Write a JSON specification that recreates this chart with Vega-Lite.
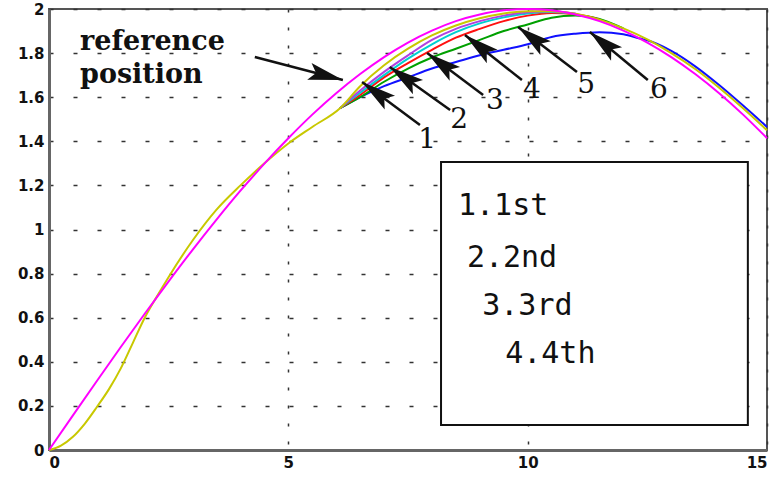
{
"$schema": "https://vega.github.io/schema/vega-lite/v6.json",
"width": 718, "height": 441,
"autosize": {"type": "none"},
"padding": {"left": 49, "top": 9, "right": 14, "bottom": 27},
"background": "white",
"config": {
  "view": {"stroke": "#555", "strokeWidth": 2},
  "axis": {"grid": true, "gridColor": "#333", "gridWidth": 1.5, "ticks": false, "domainColor": "#666", "domainWidth": 3, "labelFont": "DejaVu Sans", "labelFontWeight": "bold", "labelFontSize": 15, "labelColor": "#111"},
  "axisX": {"gridDash": [3, 15], "labelPadding": 5},
  "axisY": {"gridDash": [4, 20], "labelPadding": 5}
},
"datasets": {
  "curves": [
    {"s":"blue","x":6.08,"y":1.55},{"s":"blue","x":6.5,"y":1.6},{"s":"blue","x":7,"y":1.65},{"s":"blue","x":7.5,"y":1.69},{"s":"blue","x":8,"y":1.73},{"s":"blue","x":8.5,"y":1.76},{"s":"blue","x":9,"y":1.79},{"s":"blue","x":9.5,"y":1.815},{"s":"blue","x":10,"y":1.84},{"s":"blue","x":10.5,"y":1.873},{"s":"blue","x":11,"y":1.888},{"s":"blue","x":11.5,"y":1.895},{"s":"blue","x":12,"y":1.885},{"s":"blue","x":12.35,"y":1.866},{"s":"blue","x":12.5,"y":1.858},{"s":"blue","x":13,"y":1.81},{"s":"blue","x":13.5,"y":1.74},{"s":"blue","x":14,"y":1.655},{"s":"blue","x":14.5,"y":1.562},{"s":"blue","x":15,"y":1.465},
    {"s":"green","x":6.08,"y":1.55},{"s":"green","x":6.5,"y":1.6},{"s":"green","x":7,"y":1.67},{"s":"green","x":7.5,"y":1.73},{"s":"green","x":8,"y":1.78},{"s":"green","x":8.5,"y":1.82},{"s":"green","x":9,"y":1.86},{"s":"green","x":9.5,"y":1.9},{"s":"green","x":10,"y":1.93},{"s":"green","x":10.5,"y":1.96},{"s":"green","x":11,"y":1.97},{"s":"green","x":11.5,"y":1.955},{"s":"green","x":12,"y":1.912},
    {"s":"red","x":6.08,"y":1.55},{"s":"red","x":6.5,"y":1.61},{"s":"red","x":7,"y":1.69},{"s":"red","x":7.5,"y":1.755},{"s":"red","x":8,"y":1.815},{"s":"red","x":8.5,"y":1.87},{"s":"red","x":9,"y":1.91},{"s":"red","x":9.5,"y":1.945},{"s":"red","x":10,"y":1.97},{"s":"red","x":10.5,"y":1.982},{"s":"red","x":11,"y":1.976},{"s":"red","x":11.5,"y":1.953},
    {"s":"cyan","x":6.08,"y":1.55},{"s":"cyan","x":6.5,"y":1.62},{"s":"cyan","x":7,"y":1.7},{"s":"cyan","x":7.5,"y":1.775},{"s":"cyan","x":8,"y":1.84},{"s":"cyan","x":8.5,"y":1.895},{"s":"cyan","x":9,"y":1.935},{"s":"cyan","x":9.5,"y":1.962},{"s":"cyan","x":10,"y":1.98},{"s":"cyan","x":10.5,"y":1.986},{"s":"cyan","x":11,"y":1.978},
    {"s":"purple","x":6.08,"y":1.55},{"s":"purple","x":6.5,"y":1.63},{"s":"purple","x":7,"y":1.715},{"s":"purple","x":7.5,"y":1.79},{"s":"purple","x":8,"y":1.86},{"s":"purple","x":8.5,"y":1.91},{"s":"purple","x":9,"y":1.945},{"s":"purple","x":9.5,"y":1.97},{"s":"purple","x":10,"y":1.985},{"s":"purple","x":10.5,"y":1.99},{"s":"purple","x":11,"y":1.978},
    {"s":"yellow","x":0,"y":0},{"s":"yellow","x":0.25,"y":0.02},{"s":"yellow","x":0.5,"y":0.06},{"s":"yellow","x":0.75,"y":0.12},{"s":"yellow","x":1,"y":0.195},{"s":"yellow","x":1.25,"y":0.275},{"s":"yellow","x":1.5,"y":0.37},{"s":"yellow","x":1.75,"y":0.485},{"s":"yellow","x":2,"y":0.6},{"s":"yellow","x":2.25,"y":0.695},{"s":"yellow","x":2.5,"y":0.785},{"s":"yellow","x":3,"y":0.95},{"s":"yellow","x":3.5,"y":1.09},{"s":"yellow","x":4,"y":1.2},{"s":"yellow","x":4.5,"y":1.3},{"s":"yellow","x":5,"y":1.39},{"s":"yellow","x":5.5,"y":1.465},{"s":"yellow","x":6.08,"y":1.55},{"s":"yellow","x":6.5,"y":1.65},{"s":"yellow","x":7,"y":1.745},{"s":"yellow","x":7.5,"y":1.82},{"s":"yellow","x":8,"y":1.88},{"s":"yellow","x":8.5,"y":1.925},{"s":"yellow","x":9,"y":1.958},{"s":"yellow","x":9.5,"y":1.98},{"s":"yellow","x":10,"y":1.99},{"s":"yellow","x":10.5,"y":1.99},{"s":"yellow","x":11,"y":1.978},{"s":"yellow","x":11.5,"y":1.952},{"s":"yellow","x":12,"y":1.912},{"s":"yellow","x":12.5,"y":1.862},{"s":"yellow","x":13,"y":1.8},{"s":"yellow","x":13.5,"y":1.728},{"s":"yellow","x":14,"y":1.643},{"s":"yellow","x":14.5,"y":1.55},{"s":"yellow","x":15,"y":1.45},
    {"s":"magenta","x":0,"y":0},{"s":"magenta","x":0.5,"y":0.157},{"s":"magenta","x":1,"y":0.313},{"s":"magenta","x":1.5,"y":0.467},{"s":"magenta","x":2,"y":0.618},{"s":"magenta","x":2.5,"y":0.765},{"s":"magenta","x":3,"y":0.908},{"s":"magenta","x":3.5,"y":1.045},{"s":"magenta","x":4,"y":1.176},{"s":"magenta","x":4.5,"y":1.299},{"s":"magenta","x":5,"y":1.414},{"s":"magenta","x":5.5,"y":1.521},{"s":"magenta","x":6,"y":1.618},{"s":"magenta","x":6.5,"y":1.705},{"s":"magenta","x":7,"y":1.782},{"s":"magenta","x":7.5,"y":1.848},{"s":"magenta","x":8,"y":1.902},{"s":"magenta","x":8.5,"y":1.945},{"s":"magenta","x":9,"y":1.975},{"s":"magenta","x":9.5,"y":1.994},{"s":"magenta","x":10,"y":2},{"s":"magenta","x":10.5,"y":1.994},{"s":"magenta","x":11,"y":1.975},{"s":"magenta","x":11.5,"y":1.945},{"s":"magenta","x":12,"y":1.902},{"s":"magenta","x":12.5,"y":1.848},{"s":"magenta","x":13,"y":1.782},{"s":"magenta","x":13.5,"y":1.705},{"s":"magenta","x":14,"y":1.618},{"s":"magenta","x":14.5,"y":1.521},{"s":"magenta","x":15,"y":1.414}
  ],
  "arrows": [
    {"x":4.3,"y":1.782,"x2":6.14,"y2":1.678,"angle":104.6},
    {"x":7.75,"y":1.474,"x2":6.54,"y2":1.669,"angle":306.6},
    {"x":8.38,"y":1.542,"x2":7.12,"y2":1.737,"angle":305.6},
    {"x":9.07,"y":1.61,"x2":7.9,"y2":1.8,"angle":306.9},
    {"x":9.88,"y":1.678,"x2":8.69,"y2":1.882,"angle":308.3},
    {"x":11.03,"y":1.714,"x2":9.8,"y2":1.918,"angle":307.3},
    {"x":12.51,"y":1.678,"x2":11.3,"y2":1.896,"angle":309.6}
  ],
  "refText": [
    {"x":0.648,"y":1.814,"t":"reference"},
    {"x":0.648,"y":1.664,"t":"position"}
  ],
  "nums": [
    {"x":7.9,"y":1.37,"t":"1"},{"x":8.567,"y":1.46,"t":"2"},{"x":9.316,"y":1.546,"t":"3"},{"x":10.09,"y":1.596,"t":"4"},{"x":11.22,"y":1.619,"t":"5"},{"x":12.74,"y":1.596,"t":"6"}
  ],
  "box": [{"x":8.19,"x2":14.6,"y":1.306,"y2":0.113}],
  "legendText": [
    {"x":8.544,"y":1.066,"t":"1.1st"},{"x":8.73,"y":0.83,"t":"2.2nd"},{"x":9.05,"y":0.612,"t":"3.3rd"},{"x":9.53,"y":0.395,"t":"4.4th"}
  ]
},
"layer": [
  {
    "data": {"name": "curves"},
    "mark": {"type": "line", "strokeWidth": 2, "interpolate": "monotone"},
    "encoding": {
      "x": {"field": "x", "type": "quantitative", "title": null, "scale": {"domain": [0, 15], "nice": false}, "axis": {"values": [0, 5, 10, 15], "format": "~g"}},
      "y": {"field": "y", "type": "quantitative", "title": null, "scale": {"domain": [0, 2], "nice": false}, "axis": {"values": [0, 0.2, 0.4, 0.6, 0.8, 1, 1.2, 1.4, 1.6, 1.8, 2], "format": "~g"}},
      "color": {"field": "s", "type": "nominal", "legend": null, "sort": ["blue","green","red","cyan","purple","yellow","magenta"], "scale": {"domain": ["blue","green","red","cyan","purple","yellow","magenta"], "range": ["#1010ff","#00a000","#ff1010","#00d0d0","#b040e0","#c8c800","#ff00ff"]}}
    }
  },
  {
    "data": {"name": "box"},
    "mark": {"type": "rect", "fill": "white", "stroke": "#111", "strokeWidth": 2},
    "encoding": {
      "x": {"field": "x", "type": "quantitative"},
      "x2": {"field": "x2"},
      "y": {"field": "y", "type": "quantitative"},
      "y2": {"field": "y2"}
    }
  },
  {
    "data": {"name": "legendText"},
    "mark": {"type": "text", "align": "left", "baseline": "alphabetic", "font": "DejaVu Sans Mono", "fontSize": 30, "color": "#111"},
    "encoding": {
      "x": {"field": "x", "type": "quantitative"},
      "y": {"field": "y", "type": "quantitative"},
      "text": {"field": "t"}
    }
  },
  {
    "data": {"name": "arrows"},
    "mark": {"type": "rule", "strokeWidth": 2.5, "color": "#111"},
    "encoding": {
      "x": {"field": "x", "type": "quantitative"},
      "y": {"field": "y", "type": "quantitative"},
      "x2": {"field": "x2"},
      "y2": {"field": "y2"}
    }
  },
  {
    "data": {"name": "arrows"},
    "mark": {"type": "point", "shape": "M0,0L0.5,2L0,1.6L-0.5,2Z", "filled": true, "color": "#111", "opacity": 1, "size": 1200},
    "encoding": {
      "x": {"field": "x2", "type": "quantitative"},
      "y": {"field": "y2", "type": "quantitative"},
      "angle": {"field": "angle", "type": "quantitative", "scale": null}
    }
  },
  {
    "data": {"name": "refText"},
    "mark": {"type": "text", "align": "left", "baseline": "alphabetic", "font": "DejaVu Serif", "fontWeight": "bold", "fontSize": 27, "color": "#111"},
    "encoding": {
      "x": {"field": "x", "type": "quantitative"},
      "y": {"field": "y", "type": "quantitative"},
      "text": {"field": "t"}
    }
  },
  {
    "data": {"name": "nums"},
    "mark": {"type": "text", "align": "center", "baseline": "alphabetic", "font": "DejaVu Serif", "fontSize": 28, "color": "#111"},
    "encoding": {
      "x": {"field": "x", "type": "quantitative"},
      "y": {"field": "y", "type": "quantitative"},
      "text": {"field": "t"}
    }
  }
]
}
